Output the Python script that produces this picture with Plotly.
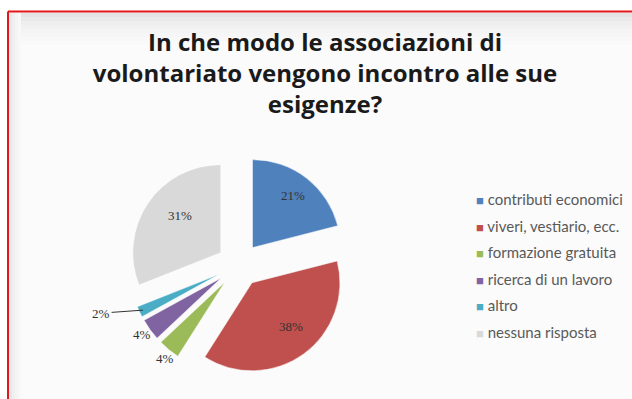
import math
import plotly.graph_objects as go

# Survey answers and their shares (percent)
labels = [
    "contributi economici",
    "viveri, vestiario, ecc.",
    "formazione gratuita",
    "ricerca di un lavoro",
    "altro",
    "nessuna risposta",
]
values = [21, 38, 4, 4, 2, 31]
colors = ["#4f81bd", "#c0504d", "#9bbb59", "#8064a2", "#4bacc6", "#d9d9d9"]
# where each percentage is written: in the slice, beside it, or beside it with a leader line
label_modes = ["inside", "inside", "outside", "outside", "leader", "inside"]

W, H = 632, 399
PULL = 0.25

# pie placement in pixels (square domain)
cx, cy, half = 239, 265, 110
r = half / (1 + PULL)          # drawn radius once slices are pulled out
shift = PULL * r               # how far each slice is pulled

fig = go.Figure()

fig.add_trace(go.Pie(
    labels=labels,
    values=values,
    sort=False,
    direction="clockwise",
    rotation=0,
    pull=[PULL] * len(values),
    marker=dict(colors=colors, line=dict(color="#ffffff", width=0.5)),
    textinfo="none",
    domain=dict(x=[(cx - half) / W, (cx + half) / W],
                y=[1 - (cy + half) / H, 1 - (cy - half) / H]),
    showlegend=False,
    hoverinfo="label+percent",
))

# Percentage labels, placed along each slice's bisector
total = sum(values)
annotations = []
label_font = dict(family="Liberation Serif", size=13, color="#333333")
acc = 0.0
for v, mode in zip(values, label_modes):
    mid = (acc + v / 2) / total * 2 * math.pi
    acc += v
    ux, uy = math.sin(mid), -math.cos(mid)        # screen direction (y down)
    txt = f"{round(v / total * 100)}%"
    if mode == "inside":
        dist = shift + 0.75 * r
        px, py = cx + dist * ux, cy + dist * uy
        annotations.append(dict(x=px / W, y=1 - py / H, xref="paper", yref="paper",
                                text=txt, showarrow=False, font=label_font))
    elif mode == "outside":
        dist = shift + r + 24
        px, py = cx + dist * ux, cy + dist * uy
        annotations.append(dict(x=px / W, y=1 - py / H, xref="paper", yref="paper",
                                text=txt, showarrow=False, font=label_font))
    else:
        dist = shift + r - 4
        px, py = cx + dist * ux, cy + dist * uy
        annotations.append(dict(x=px / W, y=1 - py / H, xref="paper", yref="paper",
                                text=txt, showarrow=True, arrowhead=0, arrowwidth=1,
                                arrowcolor="#333333", ax=-42, ay=3, font=label_font))

# Legend rows: coloured square written in front of each answer
for lab, col in zip(labels, colors):
    fig.add_trace(go.Scatter(
        x=[None], y=[None], mode="none",
        name=f"<span style='color:{col};font-size:13px'>■</span> {lab}",
        legendgroup=lab, showlegend=True, hoverinfo="skip",
    ))

# Slide frame: light backdrop with a soft shade along the top and left edges
shapes = [dict(type="rect", xref="paper", yref="paper", x0=8 / W, x1=1.05, y0=-0.05, y1=1 - 12 / H,
               fillcolor="#fbfbfb", line=dict(width=0), layer="below")]
top_shades = ["#e4e4e4", "#e9e9e9", "#eeeeee", "#f1f1f1", "#f4f4f4", "#f6f6f6", "#f8f8f8", "#fafafa"]
for i, c in enumerate(top_shades):
    y_top = 13 + i * 4
    shapes.append(dict(type="rect", xref="paper", yref="paper", x0=8 / W, x1=1.05,
                       y0=1 - (y_top + 4) / H, y1=1 - y_top / H,
                       fillcolor=c, line=dict(width=0), layer="below"))
left_shades = ["#e8e8e8", "#efefef", "#f4f4f4", "#f8f8f8"]
for i, c in enumerate(left_shades):
    x_l = 9 + i * 3
    shapes.append(dict(type="rect", xref="paper", yref="paper", x0=x_l / W, x1=(x_l + 3) / W,
                       y0=-0.05, y1=1 - 13 / H, fillcolor=c, line=dict(width=0), layer="below"))
# red outline on the top and left sides
shapes.append(dict(type="line", xref="paper", yref="paper", x0=8 / W, x1=1.05,
                   y0=1 - 11.5 / H, y1=1 - 11.5 / H, line=dict(color="#e3161c", width=2)))
shapes.append(dict(type="line", xref="paper", yref="paper", x0=8 / W, x1=8 / W,
                   y0=-0.05, y1=1 - 11.5 / H, line=dict(color="#e3161c", width=2)))

fig.update_layout(
    width=W, height=H,
    margin=dict(l=0, r=0, t=0, b=0, autoexpand=False),
    paper_bgcolor="#ffffff",
    plot_bgcolor="rgba(0,0,0,0)",
    xaxis=dict(visible=False),
    yaxis=dict(visible=False),
    shapes=shapes,
    annotations=annotations,
    title=dict(
        text="<b>In che modo le associazioni di<br>volontariato vengono incontro alle sue<br>esigenze?</b>",
        x=325 / W, xanchor="center", xref="paper",
        y=1 - 51 / H, yanchor="top", yref="container",
        font=dict(family="Open Sans", size=24, color="#1a1a1a"),
    ),
    legend=dict(
        x=436 / W, y=1 - 183 / H, xanchor="left", yanchor="top",
        traceorder="grouped", tracegroupgap=4,
        font=dict(family="Lato", size=15, color="#595959"),
        bgcolor="rgba(0,0,0,0)",
    ),
)

fig.write_html("out.html")
